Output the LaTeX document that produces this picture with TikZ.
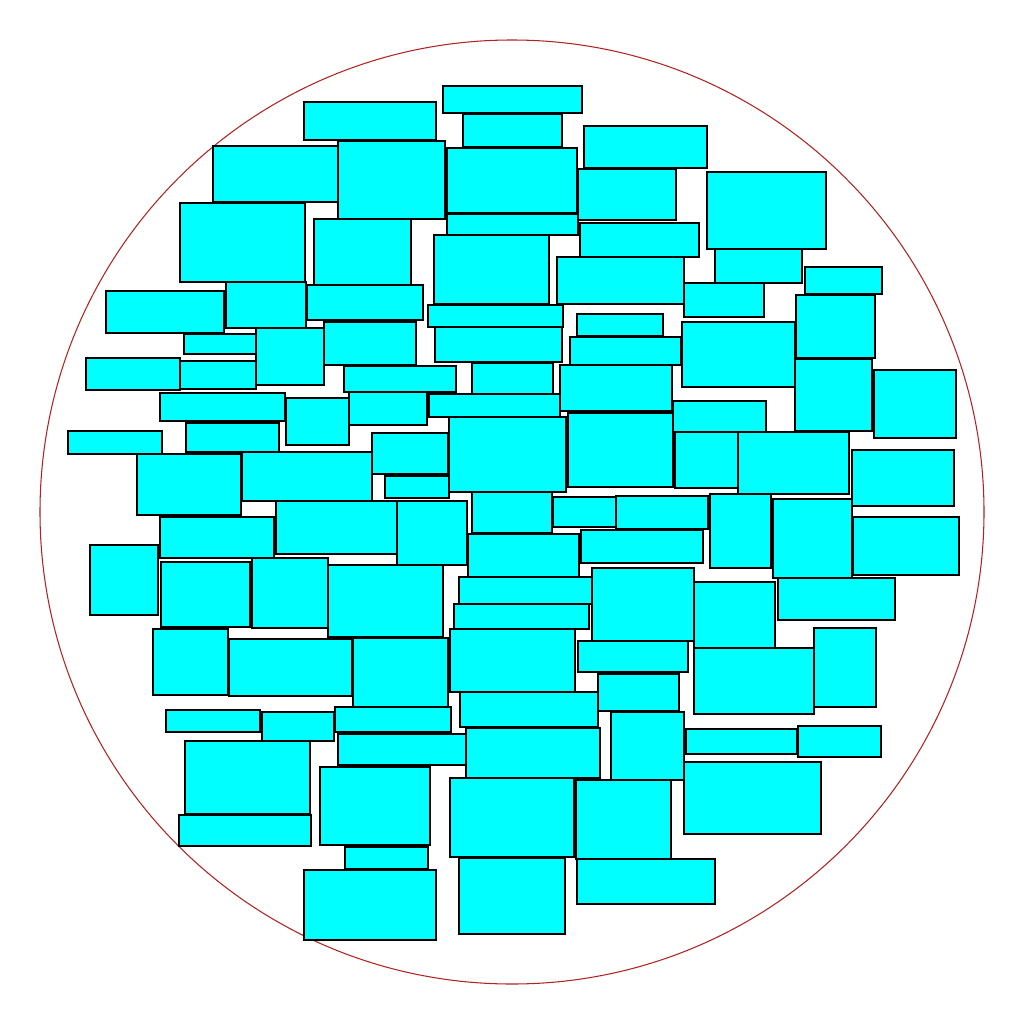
\documentclass[tikz,border=0pt]{standalone}
\definecolor{rim}{RGB}{178,34,34}
\definecolor{fillc}{RGB}{0,255,255}
\begin{document}
\begin{tikzpicture}[x=0.01cm,y=-0.01cm,
  boxc/.style={draw=black,fill=fillc,line width=0.35pt},
  rimc/.style={draw=rim,line width=0.3pt}]
\useasboundingbox (0,0) rectangle (1024,1024);
\draw[rimc] (512,512) circle[radius=472];
\foreach \a/\b/\c/\d in {
443/86/582/113, 304/102/436/140, 463/114/562/147, 584/126/707/168,
213/146/338/202, 338/141/445/219, 447/148/577/213, 578/169/676/220,
707/172/826/249, 180/203/305/282, 447/214/578/235, 314/219/411/285,
580/223/699/257, 434/235/549/304, 715/249/802/283, 557/257/684/304,
805/267/882/294, 106/291/224/333, 226/282/306/328, 307/285/423/320,
684/283/764/317, 796/295/875/358, 428/305/563/327, 577/314/663/336,
184/334/256/354, 256/328/324/385, 324/322/416/365, 435/327/562/362,
570/337/681/365, 682/322/795/387, 86/358/180/390, 180/361/256/389,
344/366/456/392, 472/363/553/394, 560/365/672/411, 795/359/872/431,
874/370/956/438, 160/393/285/421, 286/398/349/445, 349/392/427/425,
429/394/560/417, 673/401/766/432, 68/431/162/454, 186/423/279/452,
372/433/448/474, 449/417/566/492, 568/413/673/487, 675/432/738/488,
738/432/849/494, 852/450/954/506, 137/454/241/515, 242/452/372/501,
385/476/449/498, 276/501/397/554, 397/501/467/565, 472/492/552/533,
553/497/616/527, 616/496/708/529, 710/494/771/568, 773/499/852/578,
853/517/959/575, 160/517/274/558, 90/545/158/615, 468/534/579/577,
581/530/703/563, 161/562/250/627, 252/558/328/628, 328/565/443/637,
459/577/592/604, 592/568/694/641, 694/582/775/648, 778/578/895/620,
454/604/589/629, 153/629/228/695, 229/639/352/696, 353/638/448/707,
450/629/575/692, 578/641/688/672, 814/628/876/707, 694/648/814/714,
598/674/679/711, 460/692/598/727, 166/710/260/732, 262/712/334/741,
335/707/451/732, 611/712/684/780, 466/728/600/778, 686/729/797/754,
798/726/881/757, 338/734/466/765, 185/741/310/814, 684/762/821/834,
320/767/430/845, 450/778/574/857, 576/780/671/859, 179/815/311/846,
345/847/428/869, 304/870/436/940, 459/858/565/934, 577/859/715/904}
  \draw[boxc] (\a,\b) rectangle (\c,\d);
\end{tikzpicture}
\end{document}
